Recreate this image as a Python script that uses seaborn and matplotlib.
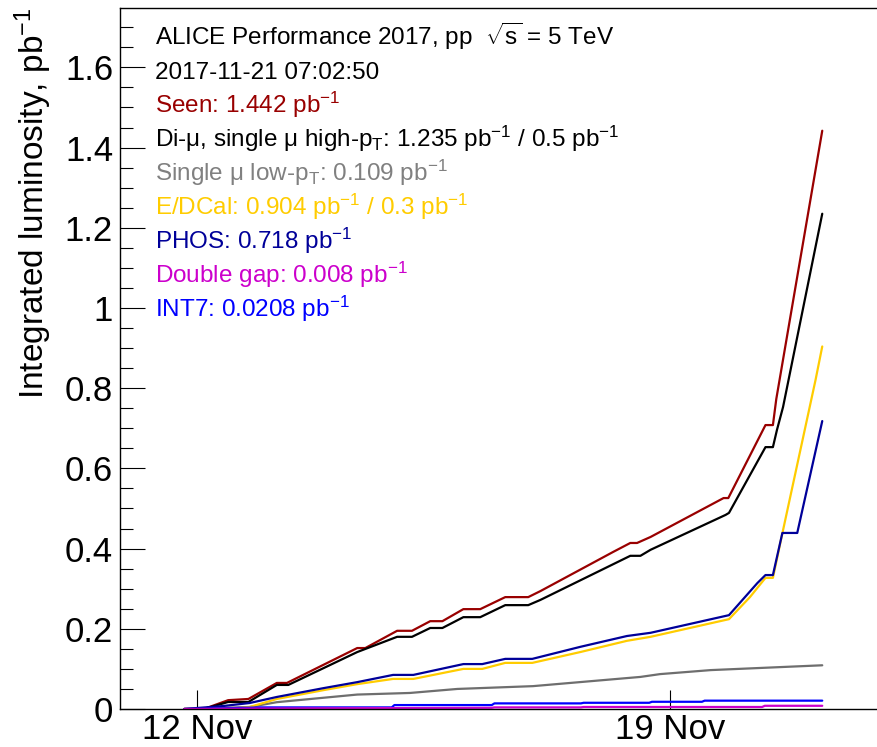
import numpy as np
import pandas as pd
import seaborn as sns
import matplotlib
matplotlib.use("Agg")
import matplotlib.pyplot as plt
import matplotlib.ticker as mticker

# Integrated luminosity per trigger class, time given as fractional day of November 2017
seen_day = [11.81, 12.10, 12.46, 12.76, 13.18, 13.33, 14.37, 14.49, 14.96, 15.18, 15.45, 15.63,
            15.94, 16.19, 16.56, 16.90, 17.08, 18.16, 18.41, 18.51, 18.71, 19.79, 19.86, 20.41,
            20.52, 20.57, 21.25]
seen_lumi = [0.0, 0.0, 0.022, 0.025, 0.065, 0.065, 0.152, 0.152, 0.195, 0.195, 0.219, 0.219,
             0.249, 0.249, 0.279, 0.279, 0.294, 0.392, 0.414, 0.414, 0.429, 0.526, 0.526, 0.708,
             0.708, 0.773, 1.442]

dimu_day = [11.81, 12.10, 12.46, 12.76, 13.18, 13.35, 14.37, 14.96, 15.18, 15.45, 15.63, 15.94,
            16.19, 16.56, 16.90, 17.08, 18.41, 18.56, 18.71, 19.82, 19.87, 20.41, 20.52, 20.58,
            20.67, 21.25]
dimu_lumi = [0.0, 0.0, 0.0175, 0.0175, 0.060, 0.060, 0.142, 0.180, 0.180, 0.202, 0.202, 0.229,
             0.229, 0.259, 0.259, 0.272, 0.382, 0.382, 0.397, 0.484, 0.489, 0.653, 0.653, 0.696,
             0.753, 1.235]

mulow_day = [11.81, 12.78, 13.18, 14.37, 15.15, 15.85, 16.97, 18.56, 18.85, 19.60, 21.25]
mulow_lumi = [0.0, 0.005, 0.017, 0.036, 0.040, 0.050, 0.057, 0.080, 0.087, 0.097, 0.109]

edcal_day = [11.81, 12.49, 12.78, 13.18, 13.87, 14.37, 14.90, 15.20, 15.94, 16.22, 16.56, 16.96,
             17.67, 18.36, 18.71, 19.87, 20.18, 20.41, 20.52, 20.67, 21.15, 21.25]
edcal_lumi = [0.0, 0.0, 0.005, 0.025, 0.047, 0.062, 0.075, 0.075, 0.100, 0.100, 0.115, 0.115,
              0.142, 0.170, 0.180, 0.224, 0.279, 0.327, 0.327, 0.446, 0.820, 0.904]

phos_day = [11.81, 12.39, 12.78, 13.18, 13.87, 14.37, 14.90, 15.20, 15.94, 16.22, 16.56, 16.96,
            17.67, 18.36, 18.71, 19.87, 20.29, 20.41, 20.52, 20.66, 20.88, 21.25]
phos_lumi = [0.0, 0.0075, 0.015, 0.030, 0.052, 0.067, 0.085, 0.085, 0.112, 0.112, 0.125, 0.125,
             0.155, 0.182, 0.190, 0.234, 0.314, 0.334, 0.334, 0.439, 0.439, 0.718]

dgap_day = [11.81, 12.80, 14.30, 16.36, 16.40, 17.68, 17.72, 20.36, 20.40, 21.25]
dgap_lumi = [0.0, 0.001, 0.002, 0.003, 0.004, 0.004, 0.005, 0.005, 0.008, 0.008]

int7_day = [11.81, 12.50, 12.93, 14.88, 14.92, 16.36, 16.40, 17.68, 17.72, 18.69, 18.73,
            19.47, 19.51, 21.25]
int7_lumi = [0.0, 0.002, 0.004, 0.004, 0.0098, 0.0098, 0.014, 0.014, 0.0155, 0.0155, 0.018,
             0.018, 0.0208, 0.0208]

series = [
    ("Seen", seen_day, seen_lumi, "#990000"),
    ("Di-mu", dimu_day, dimu_lumi, "#000000"),
    ("Single mu low-pT", mulow_day, mulow_lumi, "#6e6e6e"),
    ("E/DCal", edcal_day, edcal_lumi, "#ffcc00"),
    ("PHOS", phos_day, phos_lumi, "#000099"),
    ("INT7", int7_day, int7_lumi, "#0000ff"),
    ("Double gap", dgap_day, dgap_lumi, "#cc00cc"),
]

label_lines = [
    (r"ALICE Performance 2017, pp  $\sqrt{\mathrm{s}}$ = 5 TeV", "#000000"),
    ("2017-11-21 07:02:50", "#000000"),
    (r"Seen: 1.442 pb$^{-1}$", "#990000"),
    (r"Di-μ, single μ high-p$_{\mathrm{T}}$: 1.235 pb$^{-1}$ / 0.5 pb$^{-1}$", "#000000"),
    (r"Single μ low-p$_{\mathrm{T}}$: 0.109 pb$^{-1}$", "#808080"),
    (r"E/DCal: 0.904 pb$^{-1}$ / 0.3 pb$^{-1}$", "#ffcc00"),
    (r"PHOS: 0.718 pb$^{-1}$", "#000099"),
    (r"Double gap: 0.008 pb$^{-1}$", "#cc00cc"),
    (r"INT7: 0.0208 pb$^{-1}$", "#0000ff"),
]

month_start = pd.Timestamp("2017-11-01")


def to_time(days):
    return month_start + pd.to_timedelta(np.asarray(days) - 1.0, unit="D")


frames = []
for name, days, vals, _ in series:
    frames.append(pd.DataFrame({"time": to_time(days), "lumi": vals, "trigger": name}))
df = pd.concat(frames, ignore_index=True)

sns.set_style("ticks")
plt.rcParams["font.family"] = ["Liberation Sans", "DejaVu Sans"]
plt.rcParams["mathtext.fontset"] = "custom"
plt.rcParams["mathtext.rm"] = "Liberation Sans"
plt.rcParams["mathtext.it"] = "Liberation Sans:italic"
plt.rcParams["mathtext.bf"] = "Liberation Sans:bold"
for key in ("text.color", "axes.labelcolor", "xtick.color", "ytick.color", "axes.edgecolor"):
    plt.rcParams[key] = "#000000"

fig = plt.figure(figsize=(8.77, 7.47), dpi=100)
W, H = 877, 747
ax = fig.add_axes([120 / W, (H - 709) / H, (W - 120) / W, 701 / H])

sns.lineplot(data=df, x="time", y="lumi", hue="trigger",
             hue_order=[s[0] for s in series],
             palette={s[0]: s[3] for s in series},
             estimator=None, sort=False, legend=False, linewidth=1.6, ax=ax)

ax.set_ylim(0, 1.748)
ax.set_xlim(to_time([10.86])[0], to_time([22.06])[0])

ax.yaxis.set_major_locator(mticker.MultipleLocator(0.2))
ax.yaxis.set_minor_locator(mticker.MultipleLocator(0.05))
ax.yaxis.set_major_formatter(mticker.FuncFormatter(lambda v, p: f"{v:g}"))
ax.set_xticks(list(to_time([12, 19])))
ax.set_xticklabels(["12 Nov", "19 Nov"])
ax.xaxis.set_minor_locator(mticker.NullLocator())

ax.tick_params(axis="y", which="major", direction="in", length=18, width=0.8,
               labelsize=25, pad=5, colors="#000000")
ax.tick_params(axis="y", which="minor", direction="in", length=9, width=0.8,
               colors="#000000")
ax.tick_params(axis="x", which="major", direction="in", length=14, width=0.8,
               labelsize=25, pad=3, colors="#000000")

for side in ("left", "bottom", "top"):
    ax.spines[side].set_linewidth(1.0)
    ax.spines[side].set_color("#000000")
ax.spines["right"].set_visible(False)

ax.set_xlabel("")
ax.set_ylabel(r"Integrated luminosity, pb$^{-1}$", fontsize=24, loc="top", labelpad=8,
              color="#000000")

y0 = 45
for i, (txt, col) in enumerate(label_lines):
    fig.text(155 / W, 1 - (y0 + i * 34) / H, txt, color=col, fontsize=17.5,
             ha="left", va="baseline")

fig.savefig("out.png", dpi=100)
